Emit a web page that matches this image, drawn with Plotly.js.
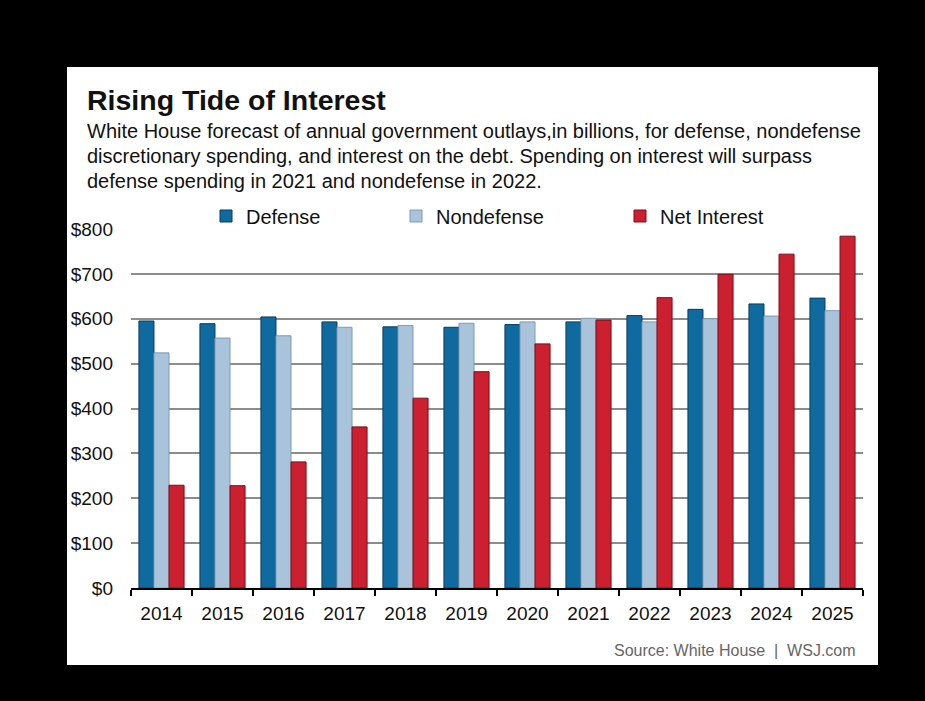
<!DOCTYPE html>
<html>
<head>
<meta charset="utf-8">
<script src="https://cdn.plot.ly/plotly-3.0.1.min.js"></script>
<style>
html,body{margin:0;padding:0;background:#000;}
#chart{width:925px;height:701px;}
</style>
</head>
<body>
<div id="chart"></div>
<script>
// ---- data ----
var years = ["2014","2015","2016","2017","2018","2019","2020","2021","2022","2023","2024","2025"];
var defense = [595, 589, 604, 593, 582, 581, 587, 593, 607, 621, 633, 646];
var nondefense = [524, 557, 562, 581, 585, 590, 593, 601, 593, 600, 606, 618];
var netInterest = [229, 228, 281, 359, 423, 482, 544, 597, 647, 699, 744, 784];
var seriesNames = ["Defense", "Nondefense", "Net Interest"];
var yTickVals = [0, 100, 200, 300, 400, 500, 600, 700, 800];
var yTickText = ["$0", "$100", "$200", "$300", "$400", "$500", "$600", "$700", "$800"];

// ---- layout geometry (pixels) ----
var W = 925, H = 701;
var ml = 131, mr = W - 863, mt = 229, mb = H - 588;
var pw = W - ml - mr, ph = H - mt - mb;
function px(x) { return (x - ml) / pw; }
function py(y) { return (H - mb - y) / ph; }

var FONT = '"Liberation Sans", Arial, Helvetica, sans-serif';

var colors = ["#0f6a9f", "#a9c3db", "#cc1f30"];
var lines = ["#083d5e", "#7f9bb5", "#7c0f1a"];
var vals = [defense, nondefense, netInterest];

var traces = vals.map(function (v, i) {
  return {
    type: "bar",
    name: seriesNames[i],
    x: years,
    y: v,
    marker: { color: colors[i], line: { color: lines[i], width: 1 } },
    legend: i === 0 ? "legend" : "legend" + (i + 1),
    hoverinfo: "x+y+name"
  };
});

function legendAt(x) {
  return {
    orientation: "h",
    x: px(x), xanchor: "left",
    y: py(216), yanchor: "middle",
    font: { family: FONT, size: 20, color: "#111" },
    bgcolor: "rgba(0,0,0,0)",
    itemwidth: 30,
    itemclick: false, itemdoubleclick: false
  };
}

var layout = {
  width: W, height: H,
  margin: { l: ml, r: mr, t: mt, b: mb, pad: 0 },
  paper_bgcolor: "#000",
  plot_bgcolor: "#fff",
  barmode: "group",
  bargap: 0.26,
  bargroupgap: 0,
  showlegend: true,
  legend: legendAt(206),
  legend2: legendAt(396),
  legend3: legendAt(620),
  xaxis: {
    type: "category",
    tickson: "boundaries",
    ticks: "outside", ticklen: 6, tickwidth: 2, tickcolor: "#000",
    showline: true, linecolor: "#000", linewidth: 2,
    showgrid: false,
    tickfont: { family: FONT, size: 19, color: "#111" },
    ticklabelstandoff: 7,
    fixedrange: true
  },
  yaxis: {
    range: [0, 800],
    tickvals: yTickVals, ticktext: yTickText,
    ticks: "", showline: false,
    showgrid: true, gridcolor: "#8c8c8c", gridwidth: 1.5,
    zeroline: false,
    tickfont: { family: FONT, size: 19, color: "#111" },
    ticklabelstandoff: 17,
    fixedrange: true
  },
  shapes: [{
    type: "rect", xref: "paper", yref: "paper", layer: "below",
    x0: px(67), x1: px(878), y0: py(665), y1: py(67),
    fillcolor: "#fff", line: { width: 0 }
  }],
  annotations: [
    { xref: "paper", yref: "paper", x: px(85), y: py(100), xanchor: "left", yanchor: "middle",
      text: "<b>Rising Tide of Interest</b>", showarrow: false,
      font: { family: FONT, size: 28.5, color: "#111" } },
    { xref: "paper", yref: "paper", x: px(85), y: py(131), xanchor: "left", yanchor: "middle",
      text: "White House forecast of annual government outlays,in billions, for defense, nondefense", showarrow: false,
      font: { family: FONT, size: 20, color: "#111" } },
    { xref: "paper", yref: "paper", x: px(85), y: py(156), xanchor: "left", yanchor: "middle",
      text: "discretionary spending, and interest on the debt. Spending on interest will surpass", showarrow: false,
      font: { family: FONT, size: 20, color: "#111" } },
    { xref: "paper", yref: "paper", x: px(85), y: py(181), xanchor: "left", yanchor: "middle",
      text: "defense spending in 2021 and nondefense in 2022.", showarrow: false,
      font: { family: FONT, size: 20, color: "#111" } },
    { xref: "paper", yref: "paper", x: px(858), y: py(650), xanchor: "right", yanchor: "middle",
      text: "Source: White House  |  WSJ.com", showarrow: false,
      font: { family: FONT, size: 16, color: "#666" } }
  ]
};

Plotly.newPlot("chart", traces, layout, { displayModeBar: false, staticPlot: false });
</script>
</body>
</html>
